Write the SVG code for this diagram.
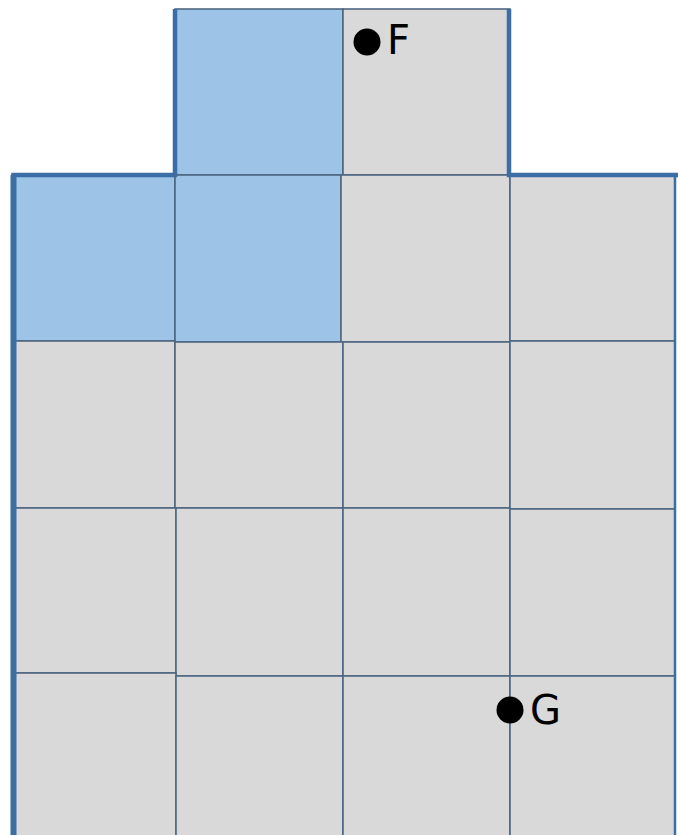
<svg xmlns="http://www.w3.org/2000/svg" width="678" height="835" viewBox="0 0 678 835">
<style>
.c{stroke:#4f6782;stroke-width:1.6}
.g{fill:#d9d9d9}
.b{fill:#9dc3e6}
.o{fill:none;stroke:#3b6ea5;stroke-width:4.5;stroke-linejoin:miter}
.t{font-family:"DejaVu Sans",sans-serif;font-size:40px;fill:#000}
</style>
<rect width="678" height="835" fill="#fff"/>
<g id="cells">
<rect id="c-top-1" class="c b" x="175" y="9" width="168" height="166"/>
<rect id="c-top-2" class="c g" x="343" y="9" width="167" height="166"/>
<rect id="c-1-1" class="c b" x="13" y="175" width="162" height="166"/>
<rect id="c-1-2" class="c b" x="175" y="175" width="166" height="167"/>
<rect id="c-1-3" class="c g" x="341" y="175" width="169" height="167"/>
<rect id="c-1-4" class="c g" x="510" y="175" width="165" height="166"/>
<rect id="c-2-1" class="c g" x="13" y="341" width="162" height="167"/>
<rect id="c-2-2" class="c g" x="175" y="342" width="168" height="166"/>
<rect id="c-2-3" class="c g" x="343" y="342" width="167" height="166"/>
<rect id="c-2-4" class="c g" x="510" y="341" width="165" height="168"/>
<rect id="c-3-1" class="c g" x="13" y="508" width="163" height="165"/>
<rect id="c-3-2" class="c g" x="176" y="508" width="167" height="168"/>
<rect id="c-3-3" class="c g" x="343" y="508" width="167" height="168"/>
<rect id="c-3-4" class="c g" x="510" y="509" width="165" height="167"/>
<rect id="c-4-1" class="c g" x="13" y="673" width="163" height="170"/>
<rect id="c-4-2" class="c g" x="176" y="676" width="167" height="167"/>
<rect id="c-4-3" class="c g" x="343" y="676" width="167" height="167"/>
<rect id="c-4-4" class="c g" x="510" y="676" width="165" height="167"/>
</g>
<g id="outline">
<path class="o" d="M13.5,840 V175 H175 V9 M509,9 V175 H680"/>
<line x1="13.5" y1="175" x2="13.5" y2="840" stroke="#3b6ea5" stroke-width="6"/>
<line x1="675" y1="175" x2="675" y2="840" stroke="#3b6ea5" stroke-width="2.5"/>
</g>
<g id="point-F">
<circle cx="367" cy="42" r="13.5" fill="#000"/>
<text class="t" x="387" y="54">F</text>
</g>
<g id="point-G">
<circle cx="510" cy="710" r="13.5" fill="#000"/>
<text class="t" x="530" y="724">G</text>
</g>
</svg>
